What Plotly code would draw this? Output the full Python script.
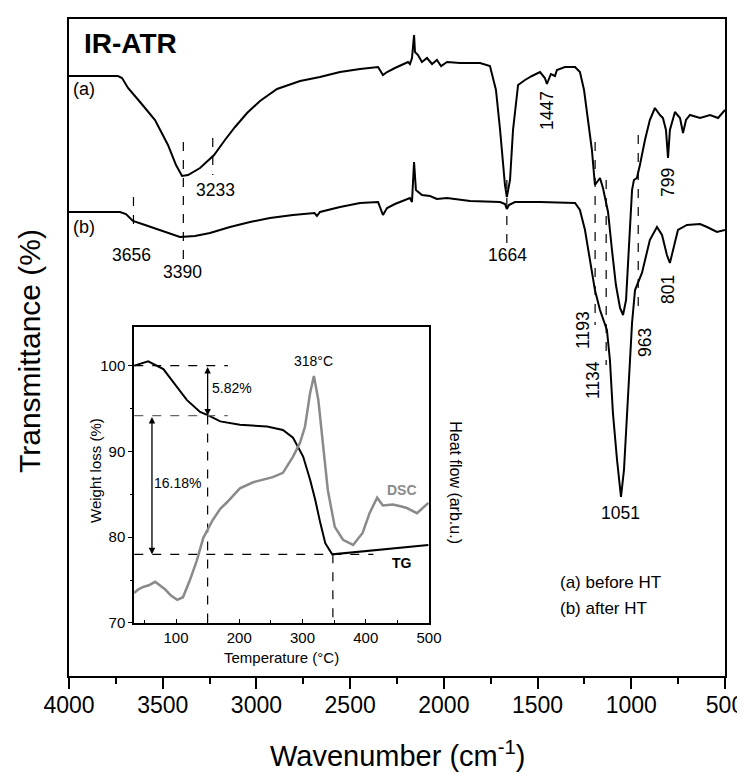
import plotly.graph_objects as go

FONT = "Liberation Sans, Arial, sans-serif"

# ---------------- IR-ATR spectra (arbitrary transmittance units) ----------------
wn_a = [4000, 3835, 3739, 3717, 3685, 3621, 3541, 3472, 3429, 3397, 3365, 3301, 3226, 3168, 3114,
        3050, 2981, 2890, 2767, 2661, 2554, 2447, 2351, 2325, 2303, 2261, 2191, 2181, 2170, 2159,
        2154, 2138, 2117, 2090, 2063, 2037, 2015, 1983, 1914, 1807, 1754, 1722, 1700, 1674, 1664,
        1647, 1631, 1604, 1567, 1530, 1487, 1461, 1450, 1429, 1407, 1397, 1354, 1300, 1274, 1252,
        1231, 1210, 1194, 1178, 1167, 1151, 1124, 1103, 1082, 1060, 1044, 1028, 1012, 996, 986,
        970, 954, 927, 901, 874, 847, 831, 815, 804, 794, 767, 740, 724, 708, 687, 633, 580, 537, 500]
tr_a = [600, 600, 600, 598, 588, 574, 556, 531, 511, 500, 501, 508, 521, 536, 549,
        563, 575, 587, 595, 599, 604, 607, 609, 601, 604, 608, 614, 612, 618, 641,
        624, 621, 614, 618, 612, 616, 610, 614, 613, 613, 610, 586, 546, 491, 479,
        496, 546, 591, 596, 600, 604, 598, 592, 602, 600, 606, 609, 609, 604, 586,
        556, 526, 491, 496, 498, 488, 464, 426, 391, 368, 361, 376, 426, 486, 496,
        498, 511, 536, 556, 568, 561, 558, 546, 518, 546, 564, 558, 543, 556, 561, 558, 561, 558, 566]

wn_b = [4000, 3728, 3696, 3659, 3594, 3514, 3408, 3328, 3248, 3141, 3034, 2928, 2805, 2690, 2677,
        2661, 2554, 2447, 2351, 2325, 2303, 2261, 2207, 2181, 2170, 2159, 2149, 2117, 2074, 2037,
        1983, 1860, 1700, 1674, 1664, 1653, 1621, 1487, 1300, 1274, 1247, 1220, 1194, 1167, 1130,
        1114, 1098, 1076, 1055, 1039, 1023, 996, 980, 943, 901, 863, 836, 810, 794, 778,
        751, 703, 633, 596, 543, 500]
tr_b = [464, 464, 462, 455, 451, 446, 439, 440, 443, 449, 454, 458, 461, 463, 460,
        464, 469, 473, 474, 461, 468, 472, 476, 478, 474, 514, 486, 481, 480, 477,
        478, 475, 474, 472, 467, 471, 474, 474, 473, 466, 446, 416, 386, 366, 346,
        316, 263, 216, 179, 206, 263, 353, 386, 403, 436, 449, 441, 421, 413, 426,
        446, 451, 452, 449, 444, 446]

# band markers: position, dashed-line top and bottom
band_pos = [3656, 3390, 3233, 1664, 1193, 1134, 963]
band_top = [479, 534, 538, 496, 534, 496, 541]
band_bot = [443, 414, 501, 431, 351, 311, 363]

# band labels: text, x, y, rotation
lab_text = ["3656", "3390", "3233", "1664", "1447", "799", "801", "963", "1193", "1134", "1051"]
lab_x = [3664, 3392, 3221, 1658, 1450, 804, 804, 927, 1258, 1204, 1060]
lab_y = [421, 404, 486, 421, 566, 493, 386, 334, 346, 296, 163]
lab_rot = [0, 0, 0, 0, -90, -90, -90, -90, -90, -90, 0]

# ---------------- Inset: TG / DSC ----------------
tg_temp = [34, 56, 80, 102, 117, 138, 151, 170, 201, 244, 265, 269, 285, 301, 312, 320, 328, 336,
           347, 375, 428, 499]
tg_wt = [100.0, 100.5, 99.6, 97.5, 96.0, 94.6, 94.2, 93.5, 93.1, 92.9, 92.5, 92.5, 91.6, 89.4,
         86.7, 84.4, 81.7, 79.3, 78.0, 78.2, 78.6, 79.1]

dsc_temp = [34, 40, 48, 57, 67, 75, 83, 92, 102, 111, 122, 133, 143, 158, 170, 181, 201, 222, 240,
            253, 269, 285, 296, 304, 312, 318, 325, 332, 340, 351, 364, 380, 395, 406, 418, 427,
            443, 455, 465, 481, 490, 499]
dsc_hf = [73.5, 73.9, 74.2, 74.4, 74.8, 74.3, 73.9, 73.2, 72.7, 73.0, 75.0, 77.3, 79.9, 82.0, 83.3,
          84.1, 85.7, 86.4, 86.8, 87.0, 87.5, 89.4, 91.0, 92.9, 96.8, 98.8, 96.0, 91.4, 85.5, 81.2,
          79.7, 79.1, 80.5, 82.8, 84.6, 83.7, 83.8, 83.6, 83.4, 82.8, 83.4, 84.0]

step1_temp = 150      # 5.82 % step marker
step2_temp = 62       # 16.18 % arrow position
end_temp = 348        # end of decomposition
wt_start, wt_mid, wt_end = 100.0, 94.18, 78.0

fig = go.Figure()

# spectra
fig.add_trace(go.Scatter(x=wn_a, y=tr_a, mode="lines", line=dict(color="black", width=2),
                         xaxis="x", yaxis="y", showlegend=False))
fig.add_trace(go.Scatter(x=wn_b, y=tr_b, mode="lines", line=dict(color="black", width=2),
                         xaxis="x", yaxis="y", showlegend=False))
for p, t, b in zip(band_pos, band_top, band_bot):
    fig.add_trace(go.Scatter(x=[p, p], y=[t, b], mode="lines",
                             line=dict(color="black", width=1.2, dash="dash"),
                             xaxis="x", yaxis="y", showlegend=False))

# inset curves
fig.add_trace(go.Scatter(x=dsc_temp, y=dsc_hf, mode="lines", line=dict(color="#8a8a8a", width=2.5),
                         xaxis="x2", yaxis="y3", showlegend=False))
fig.add_trace(go.Scatter(x=tg_temp, y=tg_wt, mode="lines", line=dict(color="black", width=2),
                         xaxis="x2", yaxis="y2", showlegend=False))

dash_lines = [
    ([34, 182], [wt_start, wt_start], "black"),
    ([34, 182], [wt_mid, wt_mid], "#666666"),
    ([step1_temp, step1_temp], [wt_mid, 70], "black"),
    ([34, 412], [wt_end, wt_end], "black"),
    ([end_temp, end_temp], [wt_end, 70], "black"),
]
for xs, ys, c in dash_lines:
    fig.add_trace(go.Scatter(x=xs, y=ys, mode="lines", line=dict(color=c, width=1.2, dash="dash"),
                             xaxis="x2", yaxis="y2", showlegend=False))

ann = []
for t, x, y, r in zip(lab_text, lab_x, lab_y, lab_rot):
    ann.append(dict(x=x, y=y, xref="x", yref="y", text=t, showarrow=False, textangle=r,
                    font=dict(family=FONT, size=17.5, color="black")))
ann += [
    dict(x=3931, y=633, xref="x", yref="y", text="<b>IR-ATR</b>", showarrow=False, xanchor="left",
         font=dict(family=FONT, size=28, color="black")),
    dict(x=3920, y=587, xref="x", yref="y", text="(a)", showarrow=False,
         font=dict(family=FONT, size=18, color="black")),
    dict(x=3920, y=449, xref="x", yref="y", text="(b)", showarrow=False,
         font=dict(family=FONT, size=18, color="black")),
    dict(x=1391, y=94, xref="x", yref="y", text="(a) before HT", showarrow=False, xanchor="left",
         font=dict(family=FONT, size=17, color="black")),
    dict(x=1391, y=68, xref="x", yref="y", text="(b) after HT", showarrow=False, xanchor="left",
         font=dict(family=FONT, size=17, color="black")),
    # inset texts
    dict(x=188, y=97.4, xref="x2", yref="y2", text="5.82%", showarrow=False,
         font=dict(family=FONT, size=14, color="black")),
    dict(x=103, y=86.3, xref="x2", yref="y2", text="16.18%", showarrow=False,
         font=dict(family=FONT, size=14, color="black")),
    dict(x=317, y=100.5, xref="x2", yref="y2", text="318°C", showarrow=False,
         font=dict(family=FONT, size=14, color="black")),
    dict(x=457, y=85.5, xref="x2", yref="y2", text="<b>DSC</b>", showarrow=False,
         font=dict(family=FONT, size=14, color="#8a8a8a")),
    dict(x=457, y=77.0, xref="x2", yref="y2", text="<b>TG</b>", showarrow=False,
         font=dict(family=FONT, size=14, color="black")),
    # arrows
    dict(x=step1_temp, y=wt_mid, ax=step1_temp, ay=wt_start, xref="x2", yref="y2", axref="x2",
         ayref="y2", text="", showarrow=True, arrowhead=2, arrowside="end+start", arrowsize=1,
         arrowwidth=1.3, arrowcolor="black"),
    dict(x=step2_temp, y=wt_end, ax=step2_temp, ay=wt_mid, xref="x2", yref="y2", axref="x2",
         ayref="y2", text="", showarrow=True, arrowhead=2, arrowside="end+start", arrowsize=1,
         arrowwidth=1.3, arrowcolor="black"),
    # titles
    dict(x=0.5, y=-0.119, xref="paper", yref="paper", text="Wavenumber (cm<sup>-1</sup>)",
         showarrow=False, xanchor="center", yanchor="middle",
         font=dict(family=FONT, size=29, color="black")),
    dict(x=-0.0595, y=0.4947, xref="paper", yref="paper", text="Transmittance (%)",
         showarrow=False, textangle=-90, xanchor="center", yanchor="middle",
         font=dict(family=FONT, size=30, color="black")),
    dict(x=0.324, y=0.0274, xref="paper", yref="paper", text="Temperature (°C)",
         showarrow=False, xanchor="center", yanchor="middle",
         font=dict(family=FONT, size=15, color="black")),
    dict(x=0.0396, y=0.3135, xref="paper", yref="paper", text="Weight loss (%)",
         showarrow=False, textangle=-90, xanchor="center", yanchor="middle",
         font=dict(family=FONT, size=15, color="black")),
    dict(x=0.588, y=0.2938, xref="paper", yref="paper", text="Heat flow (arb.u.)",
         showarrow=False, textangle=90, xanchor="center", yanchor="middle",
         font=dict(family=FONT, size=16, color="black")),
]

fig.update_layout(
    width=745, height=774,
    # the page body adds an 8 px offset; margins compensate so the plot area sits at x 69-725, y 19-676
    margin=dict(l=61, r=28, t=11, b=106, autoexpand=False),
    paper_bgcolor="white", plot_bgcolor="white",
    font=dict(family=FONT, color="black"),
    showlegend=False,
    annotations=ann,
    xaxis=dict(range=[4000, 500], domain=[0, 1], anchor="y", dtick=500, tick0=500,
               ticks="outside", ticklen=11, tickwidth=2, tickcolor="black", automargin=False,
               ticklabelstandoff=-4,
               minor=dict(dtick=250, tick0=500, ticks="outside", ticklen=6, tickwidth=2,
                          tickcolor="black"),
               showline=True, linewidth=2, linecolor="black", mirror=True, showgrid=False,
               zeroline=False, tickfont=dict(family=FONT, size=23, color="black")),
    yaxis=dict(range=[0, 657], domain=[0, 1], anchor="x", showticklabels=False, ticks="",
               automargin=False,
               showline=True, linewidth=2, linecolor="black", mirror=True, showgrid=False,
               zeroline=False),
    xaxis2=dict(range=[33.6, 500], domain=[0.0991, 0.5488], anchor="y2", dtick=100, tick0=0,
                ticks="inside", ticklen=4, tickwidth=1.3, tickcolor="black", automargin=False,
                minor=dict(dtick=50, tick0=0, ticks="inside", ticklen=3, tickwidth=1.3,
                           tickcolor="black"),
                showline=True, linewidth=1.5, linecolor="black", mirror=True, showgrid=False,
                zeroline=False, tickfont=dict(family=FONT, size=15, color="black")),
    yaxis2=dict(range=[70, 104.5], domain=[0.0807, 0.5312], anchor="x2", dtick=10, tick0=0,
                ticks="outside", ticklen=4, tickwidth=1.3, tickcolor="black", automargin=False,
                minor=dict(dtick=5, tick0=0, ticks="outside", ticklen=2, tickwidth=1.3,
                           tickcolor="black"),
                showline=True, linewidth=1.5, linecolor="black", mirror=True, showgrid=False,
                zeroline=False, tickfont=dict(family=FONT, size=15, color="black")),
    yaxis3=dict(range=[70, 104.5], overlaying="y2", anchor="x2", side="right", automargin=False,
                showticklabels=False, ticks="", showgrid=False, zeroline=False, showline=False),
)

fig.write_html("out.html")
